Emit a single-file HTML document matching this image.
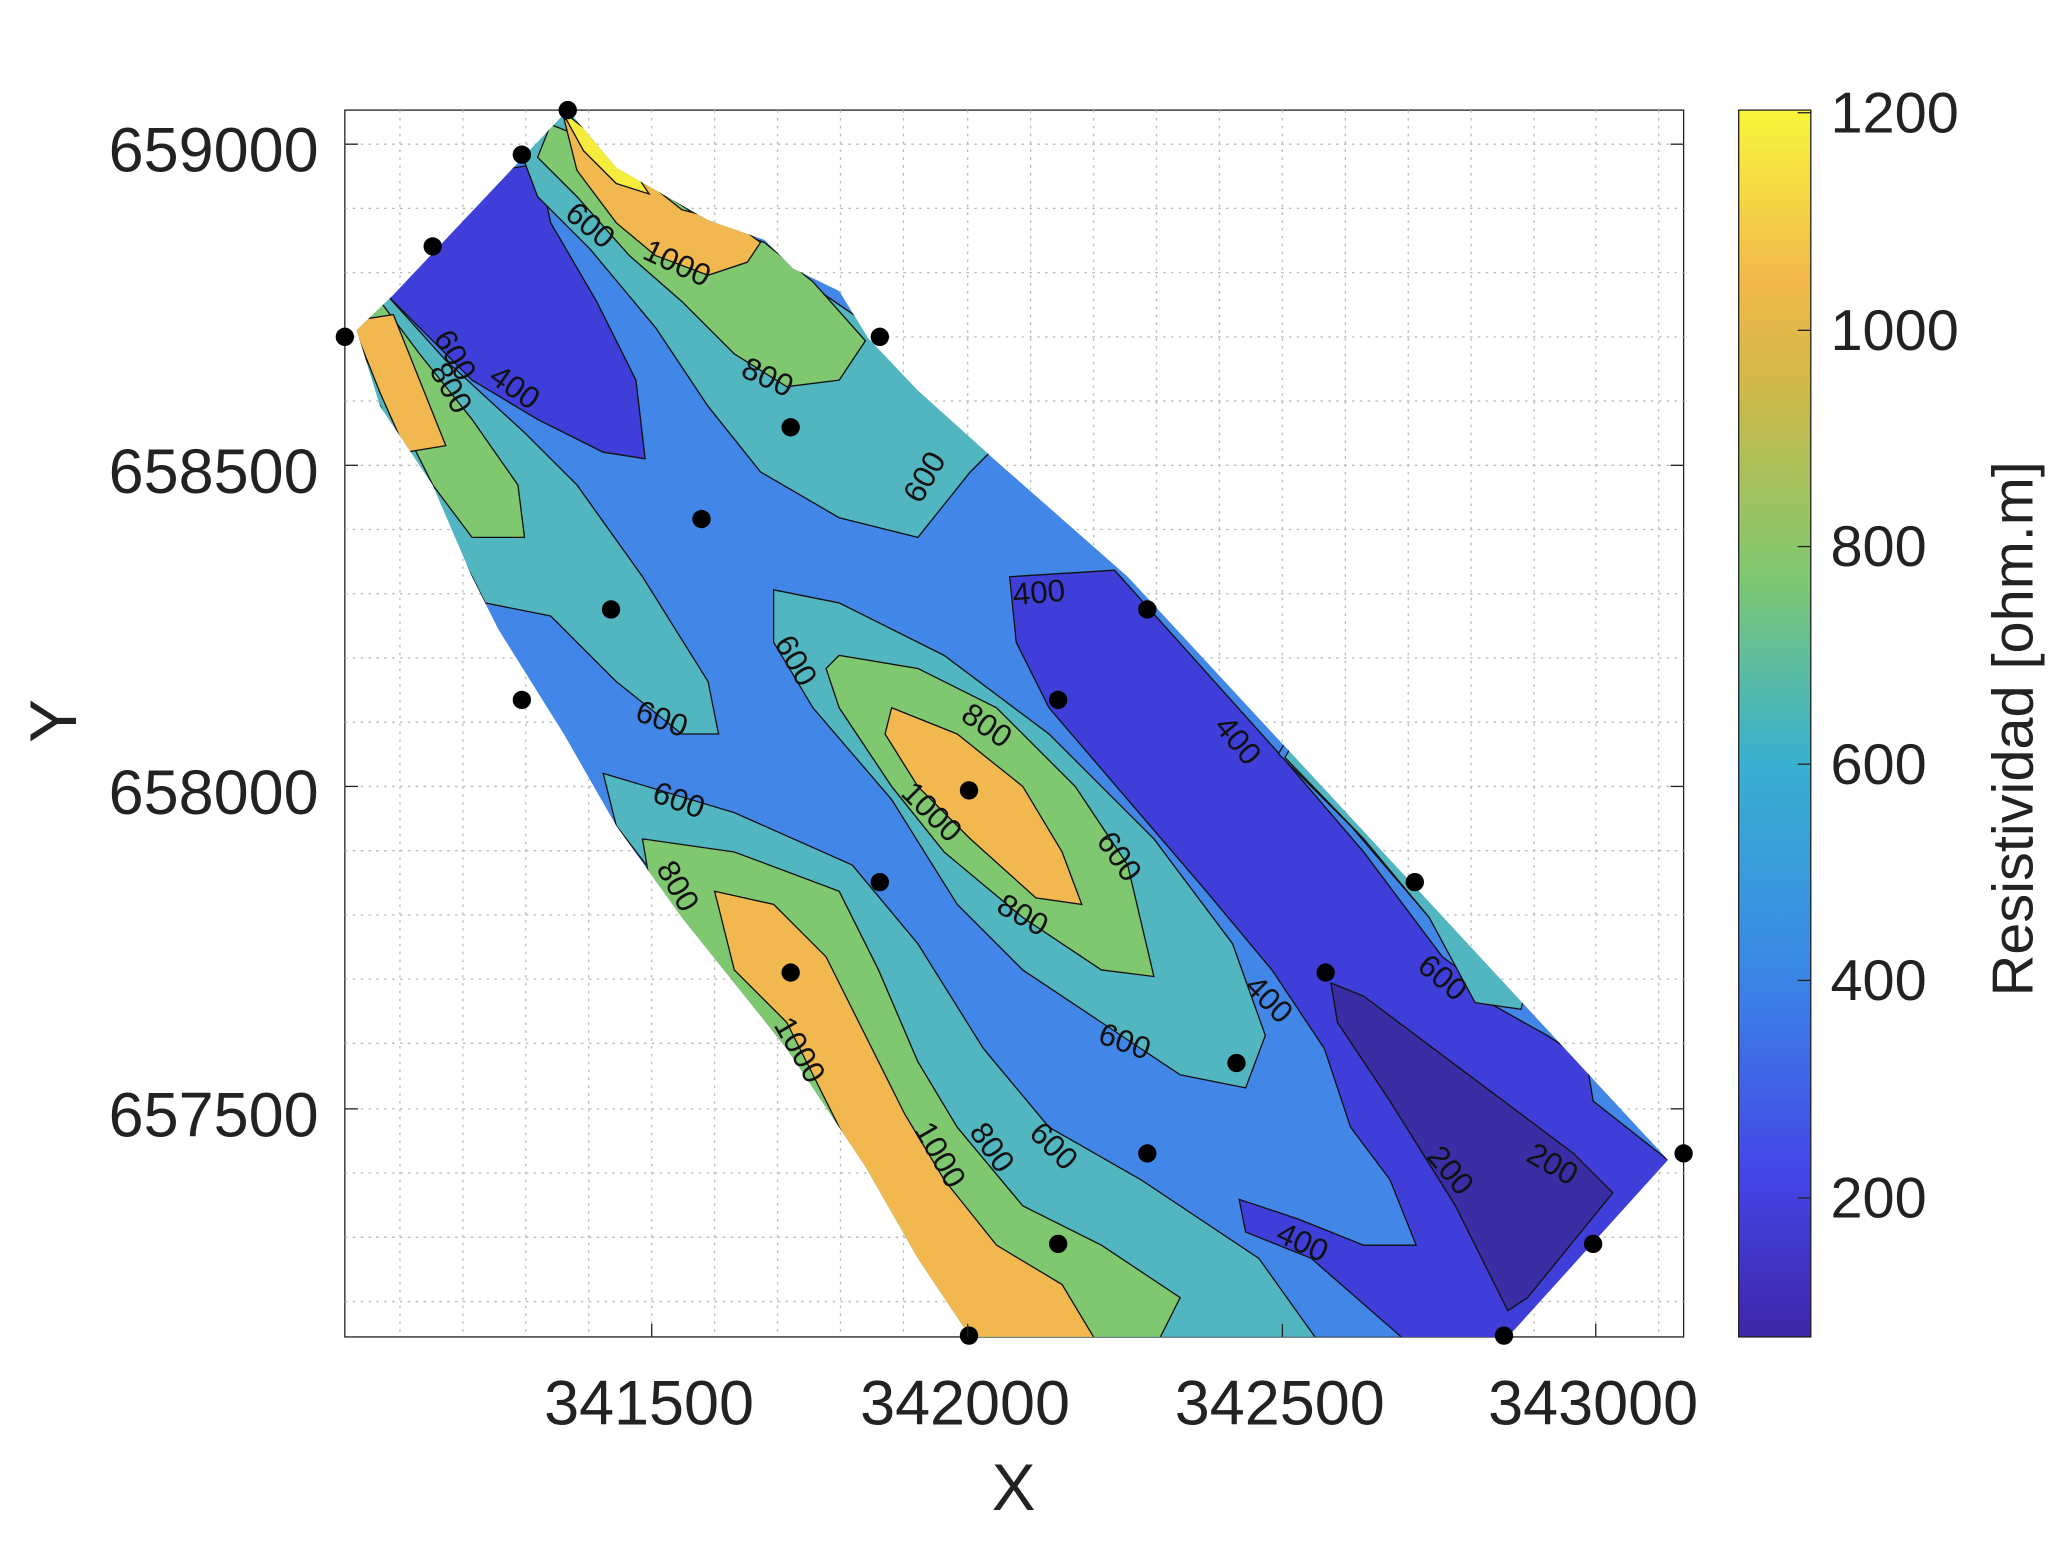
<!DOCTYPE html>
<html><head><meta charset="utf-8"><style>html,body{margin:0;padding:0;background:#fff}svg{display:block}</style></head>
<body>
<svg width="2056" height="1565" viewBox="0 0 1568 1194" preserveAspectRatio="none" xmlns="http://www.w3.org/2000/svg" font-family="Liberation Sans, sans-serif">
<defs>
<clipPath id="reg"><polygon points="433,84 470,128 540,168 583,183 605,205 640,222 662,258 700,298 760,352 860,440 1272,885 1150,1020 740,1020 700,960 660,890 600,800 520,700 470,630 430,560 380,480 360,440 330,370 290,310 272,252 300,225"/></clipPath>
<linearGradient id="cb" x1="0" y1="1" x2="0" y2="0">
<stop offset="0" stop-color="#3e26a8"/><stop offset="0.13" stop-color="#4444e6"/><stop offset="0.3" stop-color="#3a88e6"/><stop offset="0.47" stop-color="#38b0cf"/><stop offset="0.62" stop-color="#7fc870"/><stop offset="0.78" stop-color="#d2b947"/><stop offset="0.86" stop-color="#f2b84c"/><stop offset="1" stop-color="#f8f63c"/></linearGradient>
</defs>
<rect x="263" y="84" width="1021" height="936" fill="#fff" stroke="#222" stroke-width="1"/>
<g stroke="#bbb" stroke-width="1" stroke-dasharray="2,4">
<line x1="305" y1="84" x2="305" y2="1020"/><line x1="353" y1="84" x2="353" y2="1020"/><line x1="401" y1="84" x2="401" y2="1020"/><line x1="449" y1="84" x2="449" y2="1020"/><line x1="497" y1="84" x2="497" y2="1020"/><line x1="545" y1="84" x2="545" y2="1020"/><line x1="593" y1="84" x2="593" y2="1020"/><line x1="641" y1="84" x2="641" y2="1020"/><line x1="689" y1="84" x2="689" y2="1020"/><line x1="738" y1="84" x2="738" y2="1020"/><line x1="786" y1="84" x2="786" y2="1020"/><line x1="834" y1="84" x2="834" y2="1020"/><line x1="882" y1="84" x2="882" y2="1020"/><line x1="930" y1="84" x2="930" y2="1020"/><line x1="978" y1="84" x2="978" y2="1020"/><line x1="1026" y1="84" x2="1026" y2="1020"/><line x1="1074" y1="84" x2="1074" y2="1020"/><line x1="1122" y1="84" x2="1122" y2="1020"/><line x1="1170" y1="84" x2="1170" y2="1020"/><line x1="1217" y1="84" x2="1217" y2="1020"/><line x1="1265" y1="84" x2="1265" y2="1020"/>
<line x1="263" y1="110" x2="1284" y2="110"/><line x1="263" y1="159" x2="1284" y2="159"/><line x1="263" y1="208" x2="1284" y2="208"/><line x1="263" y1="257" x2="1284" y2="257"/><line x1="263" y1="306" x2="1284" y2="306"/><line x1="263" y1="355" x2="1284" y2="355"/><line x1="263" y1="404" x2="1284" y2="404"/><line x1="263" y1="453" x2="1284" y2="453"/><line x1="263" y1="502" x2="1284" y2="502"/><line x1="263" y1="551" x2="1284" y2="551"/><line x1="263" y1="600" x2="1284" y2="600"/><line x1="263" y1="649" x2="1284" y2="649"/><line x1="263" y1="698" x2="1284" y2="698"/><line x1="263" y1="747" x2="1284" y2="747"/><line x1="263" y1="796" x2="1284" y2="796"/><line x1="263" y1="846" x2="1284" y2="846"/><line x1="263" y1="895" x2="1284" y2="895"/><line x1="263" y1="944" x2="1284" y2="944"/><line x1="263" y1="993" x2="1284" y2="993"/>
</g>
<g clip-path="url(#reg)" stroke="#111" stroke-width="1">
<rect x="263" y="84" width="1021" height="936" fill="#4287e8" stroke="none"/>
<polygon fill="#3f3ed8" points="290,220 380,130 410,125 420,170 455,230 485,290 492,350 460,345 410,320 360,290 320,250"/>
<polygon fill="#52b6c0" points="395,110 433,84 480,130 600,205 680,260 760,340 740,360 700,410 640,395 580,360 540,310 500,250 450,190 410,150"/>
<polygon fill="#7fc870" points="420,95 445,105 480,130 540,170 583,185 620,215 660,260 640,290 600,295 560,270 520,230 480,195 440,150 410,120"/>
<polygon fill="#f0b84f" points="430,90 470,120 520,160 560,170 580,185 570,200 540,210 500,195 470,170 440,130"/>
<polygon fill="#f6ec3e" points="428,84 452,103 482,128 495,148 470,140 445,115"/>
<polygon fill="#52b6c0" points="295,225 340,275 400,330 440,370 490,440 540,520 548,560 520,560 470,520 420,470 370,460 350,420 320,370 290,310 260,260"/>
<polygon fill="#7fc870" points="290,230 320,270 360,320 395,370 400,410 360,410 330,370 300,310 265,250"/>
<polygon fill="#f0b84f" points="268,245 300,240 320,290 340,340 310,345 290,300"/>
<polygon fill="#52b6c0" points="590,450 640,460 720,500 800,560 880,640 940,720 965,790 950,830 900,820 840,780 780,740 730,690 680,610 620,540 590,490"/>
<polygon fill="#7fc870" points="640,500 700,510 760,540 820,600 860,660 880,745 840,740 780,700 720,650 680,600 640,540 630,510"/>
<polygon fill="#f0b84f" points="680,540 730,560 780,600 810,650 825,690 790,685 740,640 700,600 675,560"/>
<polygon fill="#3f3ed8" points="770,440 850,435 980,580 1040,650 1100,730 1180,790 1215,810 1215,840 1280,885 1160,1030 1080,1030 1000,960 950,940 945,915 990,930 1040,950 1080,950 1060,900 1030,860 1010,800 970,740 920,680 860,610 800,540 775,490"/>
<polygon fill="#4287e8" points="975,575 1030,630 1090,700 1130,762 1180,790 1210,810 1215,840 1272,885 1300,870 990,550"/>
<polygon fill="#52b6c0" points="980,578 1040,640 1090,700 1125,765 1160,770 1165,750 990,560"/>
<polygon fill="#3a2ea4" points="1015,750 1040,760 1120,820 1200,880 1230,910 1165,990 1150,1000 1110,920 1060,840 1020,780"/>
<polygon fill="#52b6c0" points="460,590 560,620 650,660 700,720 750,800 800,860 870,900 960,960 1010,1030 740,1030 600,800 470,630"/>
<polygon fill="#7fc870" points="490,640 560,650 640,680 670,740 700,810 730,860 780,920 840,950 900,990 880,1030 740,1030 560,770 500,700"/>
<polygon fill="#f0b84f" points="545,680 590,690 630,730 660,790 690,850 720,900 760,950 810,980 840,1030 740,1030 650,880 600,780 560,740"/>
</g>
<g font-size="24" fill="#111" text-anchor="middle">
<text transform="translate(445,178) rotate(40)">600</text>
<text transform="translate(513,208) rotate(25)">1000</text>
<text transform="translate(582,295) rotate(25)">800</text>
<text transform="translate(712,368) rotate(-60)">600</text>
<text transform="translate(340,275) rotate(60)">600</text>
<text transform="translate(337,300) rotate(60)">800</text>
<text transform="translate(388,302) rotate(35)">400</text>
<text transform="translate(793,460) rotate(-5)">400</text>
<text transform="translate(600,508) rotate(60)">600</text>
<text transform="translate(502,556) rotate(20)">600</text>
<text transform="translate(515,618) rotate(20)">600</text>
<text transform="translate(748,560) rotate(35)">800</text>
<text transform="translate(705,625) rotate(45)">1000</text>
<text transform="translate(847,658) rotate(55)">600</text>
<text transform="translate(776,705) rotate(30)">800</text>
<text transform="translate(938,570) rotate(50)">400</text>
<text transform="translate(510,680) rotate(60)">800</text>
<text transform="translate(603,805) rotate(60)">1000</text>
<text transform="translate(710,885) rotate(60)">1000</text>
<text transform="translate(750,880) rotate(55)">800</text>
<text transform="translate(798,880) rotate(45)">600</text>
<text transform="translate(855,802) rotate(20)">600</text>
<text transform="translate(962,768) rotate(45)">400</text>
<text transform="translate(1095,752) rotate(40)">600</text>
<text transform="translate(1100,898) rotate(50)">200</text>
<text transform="translate(1180,895) rotate(30)">200</text>
<text transform="translate(990,955) rotate(25)">400</text>
</g>
<g fill="#000">
<circle cx="433" cy="84" r="7"/><circle cx="398" cy="118" r="7"/><circle cx="330" cy="188" r="7"/><circle cx="263" cy="257" r="7"/><circle cx="671" cy="257" r="7"/><circle cx="603" cy="326" r="7"/><circle cx="535" cy="396" r="7"/><circle cx="466" cy="465" r="7"/><circle cx="398" cy="534" r="7"/><circle cx="875" cy="465" r="7"/><circle cx="807" cy="534" r="7"/><circle cx="739" cy="603" r="7"/><circle cx="671" cy="673" r="7"/><circle cx="603" cy="742" r="7"/><circle cx="1079" cy="673" r="7"/><circle cx="1011" cy="742" r="7"/><circle cx="943" cy="811" r="7"/><circle cx="875" cy="880" r="7"/><circle cx="807" cy="949" r="7"/><circle cx="739" cy="1019" r="7"/><circle cx="1284" cy="880" r="7"/><circle cx="1215" cy="949" r="7"/><circle cx="1147" cy="1019" r="7"/>
</g>
<g stroke="#222" stroke-width="1">
<line x1="497" y1="1020" x2="497" y2="1010"/><line x1="738" y1="1020" x2="738" y2="1010"/><line x1="978" y1="1020" x2="978" y2="1010"/><line x1="1217" y1="1020" x2="1217" y2="1010"/>
<line x1="263" y1="110" x2="273" y2="110"/><line x1="263" y1="355" x2="273" y2="355"/><line x1="263" y1="600" x2="273" y2="600"/><line x1="263" y1="846" x2="273" y2="846"/>
<line x1="1284" y1="110" x2="1274" y2="110"/><line x1="1284" y1="355" x2="1274" y2="355"/><line x1="1284" y1="600" x2="1274" y2="600"/><line x1="1284" y1="846" x2="1274" y2="846"/>
</g>
<g font-size="48" fill="#222">
<g text-anchor="end"><text x="243" y="131">659000</text><text x="243" y="376">658500</text><text x="243" y="621">658000</text><text x="243" y="867">657500</text></g>
<g text-anchor="middle"><text x="495" y="1087">341500</text><text x="736" y="1087">342000</text><text x="976" y="1087">342500</text><text x="1215" y="1087">343000</text></g>
<text x="773" y="1152" font-size="50" text-anchor="middle">X</text>
<text transform="translate(58,550) rotate(-90)" font-size="50" text-anchor="middle">Y</text>
</g>
<rect x="1326" y="84" width="55" height="936" fill="url(#cb)" stroke="#222" stroke-width="1"/>
<g stroke="#222"><line x1="1371" y1="86" x2="1381" y2="86"/><line x1="1371" y1="252" x2="1381" y2="252"/><line x1="1371" y1="417" x2="1381" y2="417"/><line x1="1371" y1="583" x2="1381" y2="583"/><line x1="1371" y1="748" x2="1381" y2="748"/><line x1="1371" y1="914" x2="1381" y2="914"/></g>
<g font-size="44" fill="#222">
<text x="1396" y="101">1200</text><text x="1396" y="267">1000</text><text x="1396" y="432">800</text><text x="1396" y="598">600</text><text x="1396" y="763">400</text><text x="1396" y="929">200</text>
<text transform="translate(1550,556) rotate(-90)" font-size="44" text-anchor="middle">Resistividad [ohm.m]</text>
</g>
</svg>
</body></html>
